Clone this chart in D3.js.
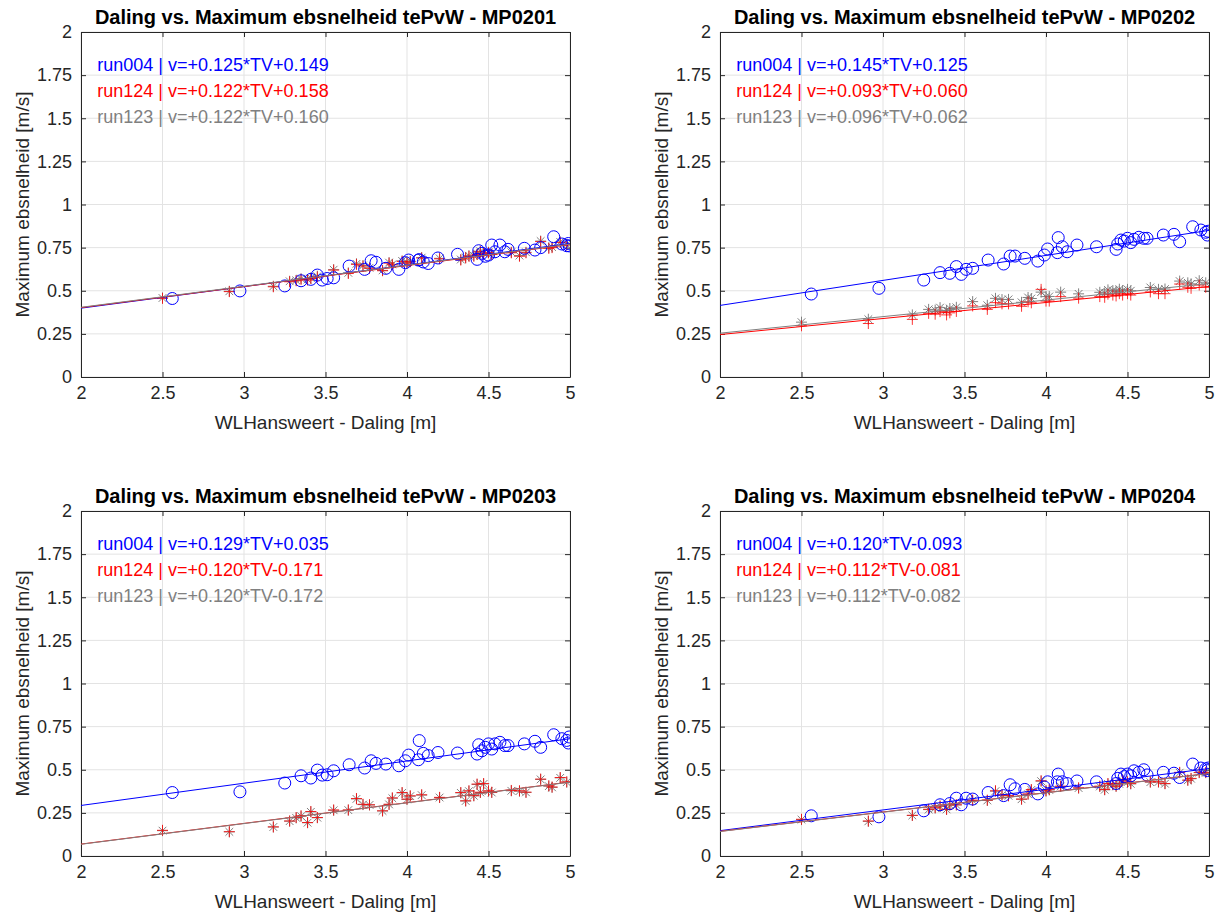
<!DOCTYPE html>
<html><head><meta charset="utf-8">
<script src="https://cdn.jsdelivr.net/npm/d3@7"></script>
<style>body{margin:0;background:#fff}svg{display:block}</style>
</head><body><svg id="c" width="1218" height="913"></svg>
<script>
// ---------- data ----------
const panelIds = ["MP0201", "MP0202", "MP0203", "MP0204"];
const runNames = ["run004", "run124", "run123"];
const xTicks = [2, 2.5, 3, 3.5, 4, 4.5, 5];
const xTickLabels = ["2", "2.5", "3", "3.5", "4", "4.5", "5"];
const yTicks = [0, 0.25, 0.5, 0.75, 1, 1.25, 1.5, 1.75, 2];
const yTickLabels = ["0", "0.25", "0.5", "0.75", "1", "1.25", "1.5", "1.75", "2"];

// Daling (TV) of the run004 points
const tvRun004 = [2.56, 2.975, 3.25, 3.35, 3.41, 3.45, 3.48, 3.51, 3.55, 3.645, 3.74, 3.78, 3.81, 3.87, 3.95, 3.99, 4.01, 4.07, 4.075, 4.10, 4.13, 4.19, 4.31, 4.43, 4.44, 4.46, 4.48, 4.50, 4.52, 4.54, 4.57, 4.60, 4.62, 4.72, 4.785, 4.82, 4.90, 4.95, 4.98, 4.99, 4.995];
// Daling (TV) of the run124 / run123 points
const tvRun124 = [2.50, 2.91, 3.18, 3.28, 3.32, 3.35, 3.39, 3.41, 3.45, 3.55, 3.64, 3.69, 3.73, 3.77, 3.85, 3.89, 3.91, 3.97, 4.00, 4.02, 4.09, 4.20, 4.33, 4.36, 4.38, 4.41, 4.43, 4.45, 4.47, 4.50, 4.52, 4.64, 4.69, 4.73, 4.82, 4.87, 4.89, 4.94, 4.98];

const mp0201_run004 = [0.455, 0.499, 0.528, 0.558, 0.566, 0.591, 0.562, 0.571, 0.575, 0.643, 0.624, 0.674, 0.665, 0.630, 0.624, 0.663, 0.678, 0.678, 0.680, 0.667, 0.658, 0.690, 0.711, 0.682, 0.732, 0.717, 0.700, 0.707, 0.765, 0.726, 0.765, 0.726, 0.740, 0.746, 0.736, 0.750, 0.813, 0.771, 0.761, 0.774, 0.760];
const mp0201_run124 = [0.456, 0.495, 0.523, 0.552, 0.558, 0.566, 0.562, 0.571, 0.580, 0.620, 0.600, 0.653, 0.643, 0.630, 0.616, 0.660, 0.650, 0.670, 0.660, 0.668, 0.690, 0.685, 0.678, 0.690, 0.700, 0.700, 0.710, 0.726, 0.715, 0.720, 0.710, 0.720, 0.700, 0.720, 0.785, 0.746, 0.750, 0.780, 0.765];
const mp0201_run123 = [0.458, 0.497, 0.526, 0.555, 0.560, 0.570, 0.565, 0.574, 0.584, 0.622, 0.604, 0.656, 0.646, 0.633, 0.618, 0.663, 0.653, 0.673, 0.664, 0.671, 0.692, 0.688, 0.681, 0.693, 0.703, 0.703, 0.713, 0.729, 0.718, 0.723, 0.713, 0.723, 0.704, 0.723, 0.788, 0.749, 0.753, 0.783, 0.768];

const mp0202_run004 = [0.481, 0.514, 0.562, 0.605, 0.601, 0.640, 0.595, 0.624, 0.630, 0.678, 0.655, 0.701, 0.701, 0.688, 0.672, 0.707, 0.742, 0.721, 0.808, 0.755, 0.726, 0.765, 0.755, 0.740, 0.771, 0.794, 0.788, 0.804, 0.779, 0.798, 0.810, 0.804, 0.804, 0.823, 0.827, 0.784, 0.871, 0.852, 0.839, 0.823, 0.845];
const mp0202_run124 = [0.297, 0.310, 0.334, 0.369, 0.364, 0.379, 0.360, 0.372, 0.380, 0.412, 0.392, 0.431, 0.424, 0.424, 0.410, 0.436, 0.430, 0.508, 0.440, 0.440, 0.466, 0.457, 0.466, 0.462, 0.480, 0.475, 0.470, 0.483, 0.475, 0.483, 0.475, 0.493, 0.483, 0.483, 0.539, 0.520, 0.514, 0.533, 0.520];
const mp0202_run123 = [0.318, 0.335, 0.360, 0.392, 0.388, 0.402, 0.386, 0.397, 0.404, 0.437, 0.416, 0.456, 0.449, 0.450, 0.433, 0.461, 0.455, 0.492, 0.466, 0.467, 0.492, 0.482, 0.491, 0.487, 0.505, 0.501, 0.496, 0.509, 0.501, 0.508, 0.500, 0.519, 0.508, 0.510, 0.556, 0.546, 0.540, 0.558, 0.546];

const mp0203_run004 = [0.368, 0.372, 0.423, 0.465, 0.452, 0.498, 0.469, 0.471, 0.494, 0.529, 0.510, 0.552, 0.537, 0.533, 0.523, 0.552, 0.585, 0.558, 0.669, 0.595, 0.582, 0.600, 0.597, 0.591, 0.645, 0.610, 0.630, 0.650, 0.620, 0.650, 0.659, 0.640, 0.640, 0.650, 0.665, 0.630, 0.703, 0.680, 0.670, 0.655, 0.690];
const mp0203_run124 = [0.149, 0.141, 0.169, 0.203, 0.223, 0.233, 0.194, 0.258, 0.223, 0.267, 0.267, 0.333, 0.300, 0.297, 0.262, 0.300, 0.337, 0.368, 0.330, 0.349, 0.355, 0.340, 0.368, 0.320, 0.378, 0.350, 0.417, 0.370, 0.420, 0.378, 0.370, 0.380, 0.378, 0.370, 0.446, 0.407, 0.400, 0.455, 0.430];
const mp0203_run123 = [0.147, 0.140, 0.168, 0.202, 0.221, 0.231, 0.193, 0.256, 0.222, 0.265, 0.266, 0.331, 0.298, 0.296, 0.261, 0.299, 0.335, 0.366, 0.328, 0.347, 0.353, 0.339, 0.366, 0.319, 0.376, 0.349, 0.415, 0.368, 0.418, 0.376, 0.368, 0.378, 0.376, 0.369, 0.444, 0.405, 0.398, 0.453, 0.428];

const mp0204_run004 = [0.233, 0.227, 0.262, 0.297, 0.304, 0.335, 0.297, 0.335, 0.330, 0.368, 0.350, 0.413, 0.390, 0.386, 0.360, 0.400, 0.430, 0.430, 0.475, 0.430, 0.420, 0.435, 0.430, 0.420, 0.450, 0.475, 0.460, 0.475, 0.465, 0.494, 0.485, 0.500, 0.470, 0.485, 0.480, 0.455, 0.533, 0.510, 0.505, 0.495, 0.510];
const mp0204_run124 = [0.213, 0.203, 0.236, 0.271, 0.280, 0.290, 0.271, 0.297, 0.297, 0.324, 0.324, 0.378, 0.355, 0.350, 0.330, 0.360, 0.385, 0.436, 0.378, 0.385, 0.405, 0.395, 0.405, 0.385, 0.420, 0.415, 0.405, 0.420, 0.440, 0.430, 0.420, 0.430, 0.430, 0.420, 0.485, 0.440, 0.450, 0.485, 0.485];
const mp0204_run123 = [0.211, 0.201, 0.235, 0.269, 0.278, 0.288, 0.270, 0.295, 0.296, 0.322, 0.322, 0.376, 0.353, 0.349, 0.329, 0.358, 0.383, 0.434, 0.377, 0.383, 0.403, 0.394, 0.403, 0.384, 0.418, 0.413, 0.404, 0.418, 0.438, 0.428, 0.418, 0.428, 0.429, 0.419, 0.483, 0.439, 0.448, 0.483, 0.483];

// linear fits v = a*TV + b  (run004, run124, run123)
const fitSlopes_MP0201 = [0.125, 0.122, 0.122];
const fitOffsets_MP0201 = [0.149, 0.158, 0.160];
const fitSlopes_MP0202 = [0.145, 0.093, 0.096];
const fitOffsets_MP0202 = [0.125, 0.060, 0.062];
const fitSlopes_MP0203 = [0.129, 0.120, 0.120];
const fitOffsets_MP0203 = [0.035, -0.171, -0.172];
const fitSlopes_MP0204 = [0.120, 0.112, 0.112];
const fitOffsets_MP0204 = [-0.093, -0.081, -0.082];

const panelValues = [
  [mp0201_run004, mp0201_run124, mp0201_run123],
  [mp0202_run004, mp0202_run124, mp0202_run123],
  [mp0203_run004, mp0203_run124, mp0203_run123],
  [mp0204_run004, mp0204_run124, mp0204_run123]
];
const panelSlopes = [fitSlopes_MP0201, fitSlopes_MP0202, fitSlopes_MP0203, fitSlopes_MP0204];
const panelOffsets = [fitOffsets_MP0201, fitOffsets_MP0202, fitOffsets_MP0203, fitOffsets_MP0204];
const runTV = [tvRun004, tvRun124, tvRun124];

// ---------- styling ----------
const runColors = ["#0000ff", "#ff0000", "#808080"];
const FONT = "'Liberation Sans', Arial, Helvetica, sans-serif";
const axisColor = "#262626";
const gridColor = "#e3e3e3";

const svg = d3.select("#c");
const W = 489, H = 345;
const lefts = [81, 720], tops = [32, 511];

function fmtSigned(v) { return (v < 0 ? "-" : "+") + Math.abs(v).toFixed(3); }

panelIds.forEach((id, p) => {
  const col = p % 2, row = Math.floor(p / 2);
  const g = svg.append("g").attr("transform", `translate(${lefts[col]},${tops[row]})`);
  const x = d3.scaleLinear().domain([2, 5]).range([0, W]);
  const y = d3.scaleLinear().domain([0, 2]).range([H, 0]);

  // grid
  g.append("g").selectAll("line").data(xTicks).join("line")
    .attr("x1", d => x(d)).attr("x2", d => x(d)).attr("y1", 0).attr("y2", H)
    .attr("stroke", gridColor).attr("stroke-width", 1);
  g.append("g").selectAll("line").data(yTicks).join("line")
    .attr("y1", d => y(d)).attr("y2", d => y(d)).attr("x1", 0).attr("x2", W)
    .attr("stroke", gridColor).attr("stroke-width", 1);

  // axes (ticks inside, box)
  const ax = (axis) => axis.tickSizeInner(-5).tickSizeOuter(0).tickPadding(9);
  const xa = g.append("g").attr("transform", `translate(0,${H})`)
    .call(ax(d3.axisBottom(x).tickValues(xTicks).tickFormat((d, i) => xTickLabels[i])));
  const xt = g.append("g")
    .call(ax(d3.axisTop(x).tickValues(xTicks).tickFormat("")));
  const ya = g.append("g")
    .call(ax(d3.axisLeft(y).tickValues(yTicks).tickFormat((d, i) => yTickLabels[i])));
  const yr = g.append("g").attr("transform", `translate(${W},0)`)
    .call(ax(d3.axisRight(y).tickValues(yTicks).tickFormat("")));
  [xa, xt, ya, yr].forEach(a => {
    a.select(".domain").attr("stroke", axisColor).attr("stroke-width", 1);
    a.selectAll(".tick line").attr("stroke", axisColor);
    a.selectAll("text").attr("fill", axisColor).style("font-family", FONT).style("font-size", "18px");
  });

  // data
  const clip = "clip" + p;
  g.append("clipPath").attr("id", clip).append("rect").attr("width", W).attr("height", H);
  const plot = g.append("g").attr("clip-path", `url(#${clip})`);
  // markers: gray, red, blue; fit lines: blue, red, gray (gray on top)
  [2, 1, 0].forEach(r => {
    const vals = panelValues[p][r];
    const tv = runTV[r];
    const pts = vals.map((v, i) => [tv[i], v]);
    const c = runColors[r];
    const mk = plot.append("g");
    if (r === 0) {
      mk.selectAll("circle").data(pts).join("circle")
        .attr("cx", d => x(d[0])).attr("cy", d => y(d[1])).attr("r", 6)
        .attr("fill", "none").attr("stroke", c).attr("stroke-width", 1);
    } else {
      const s = 5.5;
      const path = r === 1
        ? `M${-s},0H${s}M0,${-s}V${s}`
        : `M${-s},0H${s}M0,${-s}V${s}M${-s*0.7},${-s*0.7}L${s*0.7},${s*0.7}M${-s*0.7},${s*0.7}L${s*0.7},${-s*0.7}`;
      mk.selectAll("path").data(pts).join("path")
        .attr("transform", d => `translate(${x(d[0])},${y(d[1])})`)
        .attr("d", path).attr("fill", "none").attr("stroke", c).attr("stroke-width", 1)
        .attr("stroke-opacity", r === 1 ? 0.8 : 1);
    }
  });
  [0, 1, 2].forEach(r => {
    const a = panelSlopes[p][r], b = panelOffsets[p][r];
    const line = d3.line().x(d => x(d)).y(d => y(a * d + b));
    plot.append("path").datum(x.domain()).attr("d", line)
      .attr("fill", "none").attr("stroke", runColors[r]).attr("stroke-width", 1);
  });

  // annotation texts
  const textY = [1.8, 1.65, 1.5];
  [0, 1, 2].forEach(r => {
    g.append("text").attr("x", x(2.1)).attr("y", y(textY[r]))
      .attr("dominant-baseline", "middle")
      .attr("fill", runColors[r]).style("font-family", FONT).style("font-size", "18px")
      .text(`${runNames[r]} | v=${fmtSigned(panelSlopes[p][r])}*TV${fmtSigned(panelOffsets[p][r])}`);
  });

  // title & labels
  g.append("text").attr("x", W / 2).attr("y", -8).attr("text-anchor", "middle")
    .style("font-family", FONT).style("font-size", "20px").style("font-weight", "bold")
    .attr("fill", "#000").text(`Daling vs. Maximum ebsnelheid tePvW - ${id}`);
  g.append("text").attr("x", W / 2).attr("y", H + 52).attr("text-anchor", "middle")
    .style("font-family", FONT).style("font-size", "19px").attr("fill", axisColor)
    .text("WLHansweert - Daling [m]");
  g.append("text").attr("transform", `translate(-52,${H / 2}) rotate(-90)`).attr("text-anchor", "middle")
    .style("font-family", FONT).style("font-size", "19px").attr("fill", axisColor)
    .text("Maximum ebsnelheid [m/s]");
});
</script></body></html>
